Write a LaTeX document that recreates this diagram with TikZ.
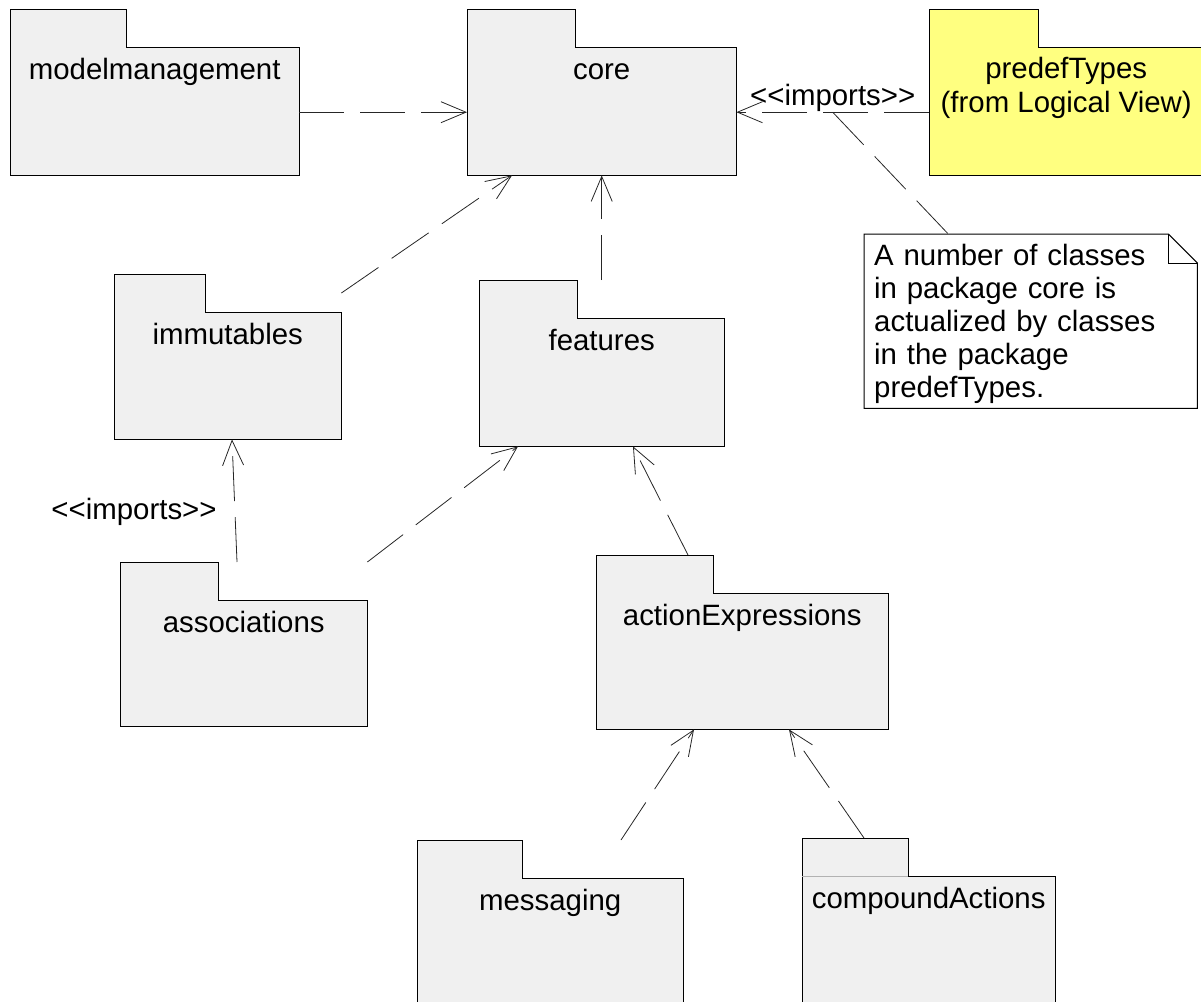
\documentclass[tikz,border=0pt]{standalone}
\usepackage{fontspec}
\setmainfont{Liberation Sans}[Ligatures=TeXOff]
\usepackage{xcolor}
\definecolor{pkgfill}{RGB}{240,240,240}
\definecolor{pkgyellow}{RGB}{255,255,128}
\usetikzlibrary{arrows.meta,calc,backgrounds}

\begin{document}
\begin{tikzpicture}[x=1pt,y=-1pt,
  pkg/.style={inner sep=0pt,anchor=north west,text height=70pt,text depth=96pt,
    font=\fontsize{29.4}{34}\selectfont,align=center},
  lbl/.style={font=\fontsize{29.4}{34}\selectfont,inner sep=0pt},
  dline/.style={draw=black!85,line width=0.8pt,dash pattern=on 45pt off 16pt},
  dep/.style={dline,-{Straight Barb[length=25pt,width=21pt]}}
]
  \useasboundingbox (0,0) rectangle (1201,1001);
  % Packages
  \node[pkg,minimum width=289pt] (mm) at (10,9) {modelmanagement};
  \node[pkg,minimum width=269pt] (core) at (467,9) {core};
  \node[pkg,minimum width=274pt,text height=103pt,text depth=63pt] (pt) at (929,9)
    {predefTypes\\(from Logical View)};
  \node[pkg,minimum width=227pt,text depth=95pt] (imm) at (114,274) {immutables};
  \node[pkg,minimum width=245pt] (feat) at (479,280) {features};
  \node[pkg,minimum width=247pt,text depth=94pt] (assoc) at (120,562) {associations};
  \node[pkg,minimum width=292pt,text depth=104pt] (actx) at (596,555) {actionExpressions};
  \node[pkg,minimum width=266pt,text depth=100pt] (msg) at (417,840) {messaging};
  \node[pkg,minimum width=253pt,text depth=102pt] (comp) at (802,838) {compoundActions};
  % Note
  \node[lbl,anchor=north west,text width=313pt,inner xsep=10pt,align=left,
    text height=31pt,text depth=143pt,font=\fontsize{29.4}{33}\selectfont] (note) at (864,234)
    {A number of classes\\in package core is\\actualized by classes\\in the package\\predefTypes.};
  % Outlines
  \begin{scope}[on background layer]
    \foreach \nm/\tw/\fc in {mm/116/pkgfill,core/108/pkgfill,pt/109/pkgyellow,imm/91/pkgfill,
      feat/98/pkgfill,assoc/98/pkgfill,actx/117/pkgfill,msg/105/pkgfill,comp/106/pkgfill}
      \draw[line width=1pt,fill=\fc] (\nm.north west) -- ++(\tw,0) -- ++(0,38)
        -| (\nm.south east) -| (\nm.north west) -- cycle;
    \draw[gray!60] ([yshift=-38pt]comp.north west) -- ++(106,0);
    \draw[line width=1pt,fill=white] (note.north west) -- ([xshift=-29pt]note.north east)
      -- ([yshift=-29pt]note.north east) -- (note.south east) -- (note.south west) -- cycle;
    \draw ([xshift=-29pt]note.north east) |- ([yshift=-29pt]note.north east);
  \end{scope}
  % Dependencies
  \draw[dep] ([yshift=-20pt]mm.east) -- ([yshift=-20pt]core.west);
  \draw[dep] ([yshift=-20pt]pt.west) -- coordinate[midway] (nt)
    node[lbl,midway,anchor=base,yshift=7pt] (imp1) {<<imports>>} ([yshift=-20pt]core.east);
  \draw[dline] (nt) -- (note);
  \draw[dep] ([yshift=-19pt]imm.north east) -- ([xshift=45pt]core.south west);
  \draw[dep] (feat) -- (core);
  \draw[dep] ([xshift=117pt]assoc.north west) --
    node[lbl,pos=0.41,anchor=east,xshift=-18pt] (imp2) {<<imports>>} ([xshift=118pt]imm.south west);
  \draw[dep] (assoc.north east) -- ([xshift=39pt]feat.south west);
  \draw[dep] ([xshift=92pt]actx.north west) -- ([xshift=154pt]feat.south west);
  \draw[dep] ([xshift=204pt]msg.north west) -- ([xshift=98pt]actx.south west);
  \draw[dep] ([xshift=62pt]comp.north west) -- ([xshift=193pt]actx.south west);
\end{tikzpicture}
\end{document}
